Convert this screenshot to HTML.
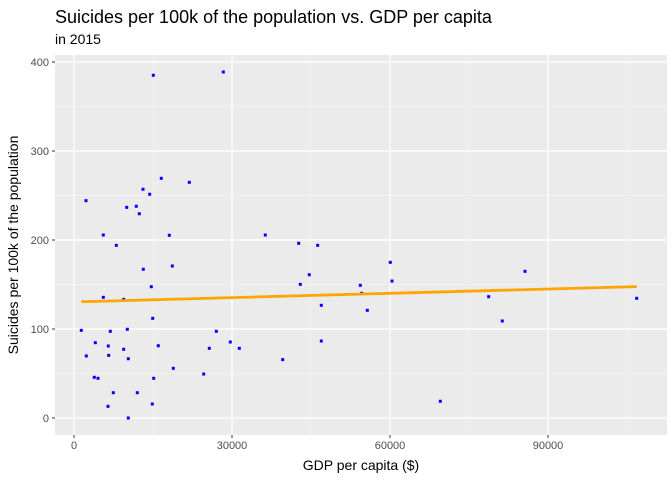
<!DOCTYPE html>
<html><head><meta charset="utf-8"><style>
body{margin:0;background:#fff;}
svg text{font-family:"Liberation Sans",sans-serif;}
</style></head><body>
<svg id="chart" width="672" height="480">
<text x="55" y="23" font-size="18" fill="#000">Suicides per 100k of the population vs. GDP per capita</text>
<text x="55" y="44" font-size="14" fill="#000">in 2015</text>
<rect x="55" y="55" width="612" height="380" fill="#ebebeb"/>
<g id="grid"></g>
<g id="ticks"></g>
<g id="marks"></g>
<text x="361" y="470" font-size="14" text-anchor="middle">GDP per capita ($)</text>
<text transform="translate(18,245) rotate(-90)" font-size="14" text-anchor="middle">Suicides per 100k of the population</text>
</svg>
<script>
const gdp=[15057,28348,16576,21892,13101,14373,2278,10006,11829,12398,5563,18095,8032,13158,18664,14677,5563,9437,14943,1386,6892,10120,27018,4044,6512,9437,16006,25690,29677,31386,2335,6588,10310,18854,24626,3854,4557,15133,7462,12019,6456,14867,10310,36322,42664,46271,44676,42968,54360,54626,60056,60379,46955,55689,78739,81321,85631,106840,46955,39626,69550];
const suicides=[385.1,388.8,269.3,264.8,257.0,251.4,244.2,236.7,237.9,229.5,205.6,205.3,194.0,167.1,170.8,147.5,135.6,133.3,112.0,98.5,97.4,99.7,97.4,84.6,80.9,77.2,81.2,78.3,85.4,78.3,69.7,70.4,66.6,55.8,49.4,45.7,44.6,44.6,28.4,28.4,13.1,15.7,0,205.6,196.3,194.0,161.0,150.2,149.1,140.1,174.9,153.9,126.6,121.0,136.3,109.0,164.8,134.5,86.5,65.6,18.8];
const xTicks=[0,30000,60000,90000];
const xTickLabels=["0","30000","60000","90000"];
const yTicks=[0,100,200,300,400];
const yTickLabels=["0","100","200","300","400"];
const NS="http://www.w3.org/2000/svg";
const L=55,R=667,T=55,B=435;
const xs=v=>74+v*158/30000;
const ys=v=>418-v*0.89;
function mk(tag,attrs,parent){const e=document.createElementNS(NS,tag);for(const k in attrs)e.setAttribute(k,attrs[k]);parent.appendChild(e);return e;}
const grid=document.getElementById('grid'),ticks=document.getElementById('ticks'),marks=document.getElementById('marks');
// minor grid
for(let i=0;i<xTicks.length;i++){const m=xTicks[i]+15000;const px=xs(m);if(px<R){const l=mk('line',{x1:px,x2:px,y1:T,y2:B,stroke:'#f5f5f5','stroke-width':0.6},grid);}}
for(let i=0;i<yTicks.length;i++){const m=yTicks[i]+50;const py=ys(m);if(py>T){const l=mk('line',{x1:L,x2:R,y1:py,y2:py,stroke:'#f5f5f5','stroke-width':0.6},grid);}}
for(let i=0;i<xTicks.length;i++){const px=xs(xTicks[i]);
const l=mk('line',{x1:px,x2:px,y1:T,y2:B,stroke:'#fff','stroke-width':1.2},grid);
const t=mk('line',{x1:px,x2:px,y1:B,y2:B+3,stroke:'#333','stroke-width':1},ticks);
const tx=mk('text',{x:px,y:B+14,'font-size':11,fill:'#4d4d4d','text-anchor':'middle'},ticks);tx.textContent=xTickLabels[i];}
for(let i=0;i<yTicks.length;i++){const py=ys(yTicks[i]);
const l=mk('line',{x1:L,x2:R,y1:py,y2:py,stroke:'#fff','stroke-width':1.2},grid);
const t=mk('line',{x1:L-3,x2:L,y1:py,y2:py,stroke:'#333','stroke-width':1},ticks);
const tx=mk('text',{x:L-6,y:py+4,'font-size':11,fill:'#4d4d4d','text-anchor':'end'},ticks);tx.textContent=yTickLabels[i];}
for(let i=0;i<gdp.length;i++){const c=mk('rect',{x:xs(gdp[i])-1.5,y:ys(suicides[i])-1.5,width:3,height:3,fill:'#0000ff'},marks);}
// linear regression
const n=gdp.length;let mx=0,my=0;for(let i=0;i<n;i++){mx+=gdp[i];my+=suicides[i];}mx/=n;my/=n;
let sxy=0,sxx=0;for(let i=0;i<n;i++){sxy+=(gdp[i]-mx)*(suicides[i]-my);sxx+=(gdp[i]-mx)**2;}
const slope=sxy/sxx,icpt=my-slope*mx;const x0=Math.min(...gdp),x1=Math.max(...gdp);
const ln=mk('line',{x1:xs(x0),y1:ys(icpt+slope*x0),x2:xs(x1),y2:ys(icpt+slope*x1),stroke:'#ffa500','stroke-width':2.8},marks);


</script>
</body></html>
